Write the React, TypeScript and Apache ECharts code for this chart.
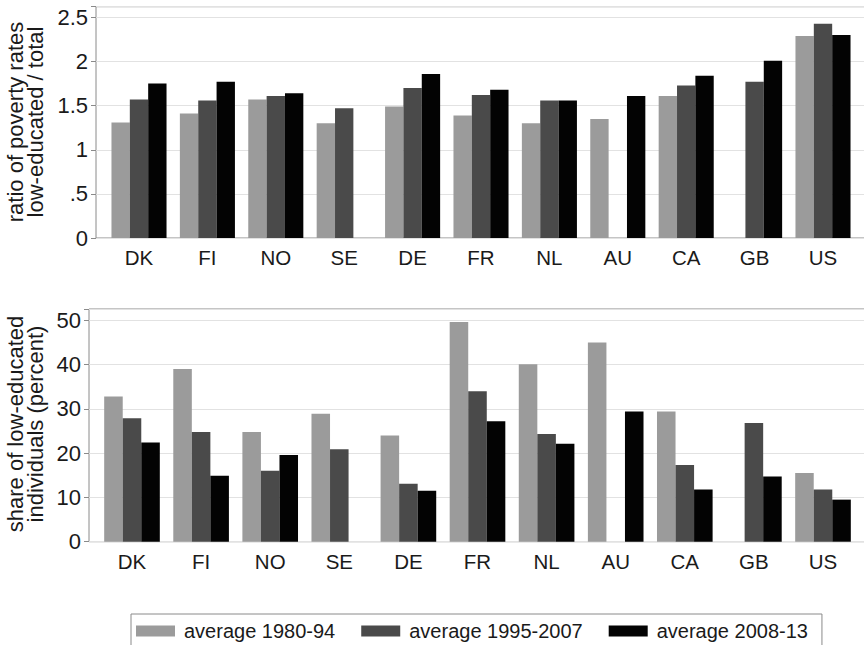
import React, { useEffect, useRef } from "react";
import * as echarts from "echarts";

const categories = ["DK", "FI", "NO", "SE", "DE", "FR", "NL", "AU", "CA", "GB", "US"];
const seriesNames = ["average 1980-94", "average 1995-2007", "average 2008-13"];
const ratio1980 = [1.31, 1.41, 1.57, 1.30, 1.49, 1.39, 1.30, 1.35, 1.61, null, 2.29];
const ratio1995 = [1.57, 1.56, 1.61, 1.47, 1.70, 1.62, 1.56, null, 1.73, 1.77, 2.43];
const ratio2008 = [1.75, 1.77, 1.64, null, 1.86, 1.68, 1.56, 1.61, 1.84, 2.01, 2.30];
const share1980 = [32.8, 39.0, 24.8, 28.9, 24.0, 49.6, 40.1, 45.0, 29.4, null, 15.5];
const share1995 = [27.9, 24.8, 16.0, 20.9, 13.1, 34.0, 24.3, null, 17.3, 26.8, 11.8];
const share2008 = [22.4, 14.9, 19.6, null, 11.5, 27.2, 22.1, 29.4, 11.8, 14.7, 9.5];
const topTitle = "ratio of poverty rates\nlow-educated / total";
const bottomTitle = "share of low-educated\nindividuals (percent)";

const colors = ["#9b9b9b", "#4a4a4a", "#030303"];
const FONT = "'Liberation Sans', Arial, sans-serif";
const TXT = "#1a1a1a";
const AX = "#8a8a8a";

export default function App() {
  const ref = useRef<HTMLDivElement>(null);
  useEffect(() => {
    if (!ref.current) return;
    const chart = echarts.init(ref.current, null, { renderer: "svg" });
    const topMax = 2.622;
    const botMax = 52.55;
    const frameY = (gi: number, max: number, interval: number, fmt: (v: number) => string) => ({
      type: "value",
      gridIndex: gi,
      min: 0,
      max,
      interval,
      axisLine: { show: false },
      axisTick: { show: true, length: 5, lineStyle: { color: AX } },
      axisLabel: { margin: 8, fontSize: 22, fontFamily: FONT, color: TXT, formatter: fmt },
      splitLine: { show: true, lineStyle: { color: "#e2e2e2", width: 1 } },
    });
    const hiddenY = (gi: number, max: number) => ({
      type: "value",
      gridIndex: gi,
      min: 0,
      max,
      show: false,
      splitLine: { show: false },
    });
    const catX = (gi: number) => ({
      type: "category",
      gridIndex: gi,
      data: categories,
      axisLine: { show: false },
      axisTick: { show: false },
      axisLabel: { margin: 9, fontSize: 20.5, fontFamily: FONT, color: TXT, interval: 0 },
    });
    const hiddenX = (gi: number) => ({ type: "value", gridIndex: gi, min: 0, max: 1, show: false });
    const topFmt = (v: number) => {
      if (Math.abs(v * 2 - Math.round(v * 2)) > 1e-6) return "";
      if (v === 0) return "0";
      if (v < 1) return "." + String(v).split(".")[1];
      return String(v);
    };
    const botFmt = (v: number) => (Math.abs(v / 10 - Math.round(v / 10)) > 1e-6 ? "" : String(v));
    const bar = (name: string, data: (number | null)[], i: number, axis: number) => ({
      type: "bar",
      name,
      data,
      xAxisIndex: axis,
      yAxisIndex: axis,
      barGap: "0%",
      barCategoryGap: "19.5%",
      itemStyle: { color: colors[i] },
      emphasis: { disabled: true },
    });
    chart.setOption({
      animation: false,
      grid: [
        { left: 96, top: 6.7, width: 770, height: 231.3, show: true, borderColor: AX, borderWidth: 1, backgroundColor: "transparent" },
        { left: 104.8, top: 6.7, width: 752.4, height: 231.3 },
        { left: 89, top: 309, width: 777, height: 232.7, show: true, borderColor: AX, borderWidth: 1, backgroundColor: "transparent" },
        { left: 97.45, top: 309, width: 760.1, height: 232.7 },
      ],
      xAxis: [hiddenX(0), catX(1), hiddenX(2), catX(3)],
      yAxis: [
        frameY(0, topMax, 0.5, topFmt),
        hiddenY(1, topMax),
        frameY(2, botMax, 10, botFmt),
        hiddenY(3, botMax),
      ],
      legend: {
        data: seriesNames,
        left: 131,
        top: 614,
        orient: "horizontal",
        icon: "rect",
        itemWidth: 39,
        itemHeight: 11,
        itemGap: 26,
        borderColor: AX,
        borderWidth: 1,
        padding: [7, 14, 12, 5],
        textStyle: { fontSize: 20, fontFamily: FONT, color: TXT, padding: [0, 0, 0, 4] },
        selectedMode: false,
      },
      graphic: [
        {
          type: "text",
          x: 25,
          y: 122,
          rotation: Math.PI / 2,
          style: { text: topTitle, font: `22px ${FONT}`, fill: TXT, textAlign: "center", textVerticalAlign: "middle", lineHeight: 20 },
        },
        {
          type: "text",
          x: 25,
          y: 424,
          rotation: Math.PI / 2,
          style: { text: bottomTitle, font: `22px ${FONT}`, fill: TXT, textAlign: "center", textVerticalAlign: "middle", lineHeight: 20 },
        },
      ],
      series: [
        bar(seriesNames[0], ratio1980, 0, 1),
        bar(seriesNames[1], ratio1995, 1, 1),
        bar(seriesNames[2], ratio2008, 2, 1),
        bar(seriesNames[0], share1980, 0, 3),
        bar(seriesNames[1], share1995, 1, 3),
        bar(seriesNames[2], share2008, 2, 3),
      ],
    });
    return () => chart.dispose();
  }, []);
  return (
    <div style={{ position: "absolute", left: 0, top: 0, width: 864, height: 645, overflow: "hidden", background: "#fff" }}>
      <div ref={ref} style={{ width: 900, height: 645 }} />
    </div>
  );
}
